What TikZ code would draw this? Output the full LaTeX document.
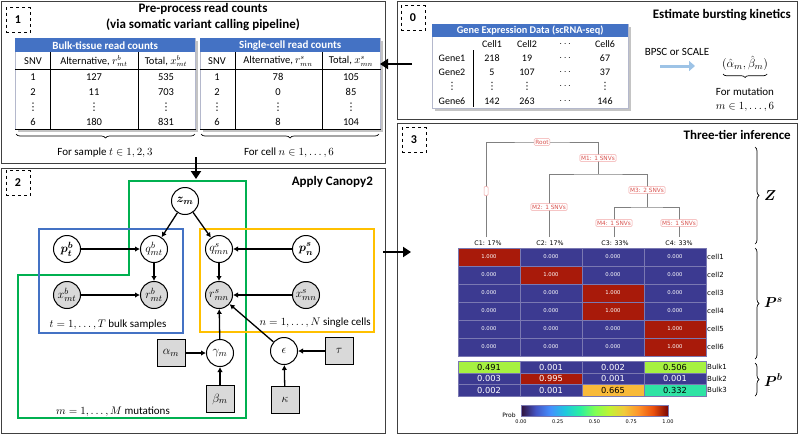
\documentclass[tikz,border=0pt]{standalone}
\usepackage{amsmath}
\usepackage{fontspec}
\setmainfont{Carlito}
\newfontfamily\plotfont{DejaVu Sans}
\usetikzlibrary{positioning}
\usetikzlibrary{calc}
\usetikzlibrary{backgrounds}
\usetikzlibrary{arrows.meta}
\usetikzlibrary{decorations.pathreplacing}

\newcommand{\tdots}{{\plotfont\char"22EE}}

\definecolor{framegray}{HTML}{404040}
\definecolor{hdrblue}{HTML}{4472C4}
\definecolor{rulegray}{HTML}{B4B8CC}
\definecolor{shadowgray}{HTML}{C4C4C4}
\definecolor{obsgray}{HTML}{D9D9D9}
\definecolor{plategreen}{HTML}{00B050}
\definecolor{plateblue}{HTML}{4472C4}
\definecolor{plateyellow}{HTML}{FFC000}
\definecolor{bpscblue}{HTML}{9DC3E6}
\definecolor{treegray}{HTML}{808080}
\definecolor{treered}{HTML}{D9534F}
\definecolor{treeedge}{HTML}{F2A6A6}
\definecolor{hmblue}{HTML}{3C3A91}
\definecolor{hmgrid}{HTML}{7A78B2}
\definecolor{hmred}{HTML}{A81A0A}
\definecolor{hmlime}{HTML}{A6F141}
\definecolor{hmorange}{HTML}{F8BA3A}
\definecolor{hmteal}{HTML}{2FE3A4}
\definecolor{tb0}{HTML}{30123B}
\definecolor{tb1}{HTML}{4454C4}
\definecolor{tb2}{HTML}{4490FE}
\definecolor{tb3}{HTML}{1FC8DE}
\definecolor{tb4}{HTML}{29EFA2}
\definecolor{tb5}{HTML}{7EFF55}
\definecolor{tb6}{HTML}{C1F334}
\definecolor{tb7}{HTML}{F1CA3A}
\definecolor{tb8}{HTML}{FE922A}
\definecolor{tb9}{HTML}{EA4F0D}
\definecolor{tb10}{HTML}{7A0403}
\pgfdeclarehorizontalshading{probbar}{100bp}{color(0bp)=(tb0); color(25bp)=(tb0); color(30bp)=(tb1); color(35bp)=(tb2); color(40bp)=(tb3); color(45bp)=(tb4); color(50bp)=(tb5); color(55bp)=(tb6); color(60bp)=(tb7); color(65bp)=(tb8); color(70bp)=(tb9); color(75bp)=(tb10); color(100bp)=(tb10)}

\tikzset{
  panel/.style={draw=framegray, line width=0.8pt},
  numbox/.style={draw, dashed, line width=0.8pt, minimum width=24pt, minimum height=25pt, inner sep=0pt, font=\fontsize{12}{14}\selectfont\bfseries},
  paneltitle/.style={inner sep=0pt, font=\fontsize{13}{16}\selectfont\bfseries},
  tblhead/.style={fill=hdrblue, text=white, inner sep=0pt, anchor=north west, font=\fontsize{11}{12}\selectfont\bfseries},
  tblframe/.style={draw=rulegray, fill=white, line width=0.6pt, inner sep=0pt, anchor=north west},
  tblrule/.style={black, line width=0.6pt},
  tbltext/.style={inner sep=0pt, font=\fontsize{10.5}{12}\selectfont},
  genetext/.style={inner sep=0pt, font=\fontsize{10}{11}\selectfont},
  bigarrow/.style={line width=2.6pt, -{Triangle[length=8pt,width=10pt]}},
  bracestyle/.style={decorate, decoration={brace, amplitude=4pt}, line width=0.7pt},
  latent/.style={circle, draw, line width=1pt, minimum size=27pt, inner sep=0pt, fill=white, font=\fontsize{12.5}{14}\selectfont},
  observed/.style={latent, fill=obsgray},
  hyper/.style={rectangle, draw, line width=1pt, minimum width=28pt, minimum height=27pt, inner sep=0pt, fill=obsgray, font=\fontsize{12.5}{14}\selectfont},
  edge/.style={line width=1.3pt, -{Latex[length=5pt,width=5.5pt]}},
  plate/.style={line width=1.6pt},
  platelab/.style={inner sep=0pt, font=\fontsize{11}{12}\selectfont},
  treeline/.style={treegray, line width=0.9pt},
  treelab/.style={draw=treeedge, fill=white, text=treered, rounded corners=1pt, inner sep=1.2pt, line width=0.5pt, font=\plotfont\fontsize{5.8}{7}\selectfont},
  clonelab/.style={inner sep=0pt, anchor=south, font=\plotfont\fontsize{6.3}{7}\selectfont},
  hmcell/.style={draw=hmgrid, line width=0.4pt, text=white, minimum width=62pt, inner sep=0pt, font=\plotfont\fontsize{5.3}{6}\selectfont},
  bulkcell/.style={hmcell, minimum height=11.6pt, font=\plotfont\fontsize{8.3}{9}\selectfont},
  rowlab/.style={anchor=west, inner sep=0pt, font=\plotfont\fontsize{7}{8}\selectfont},
  ticklab/.style={inner sep=0pt, font=\plotfont\fontsize{5}{6}\selectfont},
  biglab/.style={anchor=west, inner sep=0pt, font=\fontsize{14}{16}\selectfont}
}

\begin{document}
\begin{tikzpicture}[x=1pt,y=-1pt]
      \useasboundingbox (0,0) rectangle (798,434);

      % frames of the four panels
      \draw[panel] (1,1) rectangle (385,163);
      \draw[panel] (397,1) rectangle (797,119);
      \draw[panel] (1,168) rectangle (385,433);
      \draw[panel] (397,123) rectangle (797,433);

      \node[numbox] (num1) at (18,20) {1};
      \node[numbox] (num0) at (413,18) {0};
      \node[numbox] (num2) at (18,183) {2};
      \node[numbox] (num3) at (414,140) {3};

      \node[paneltitle, align=center] (title1) at (203,17) {Pre-process read counts\\(via somatic variant calling pipeline)};
      \node[paneltitle, anchor=east] (title0) at (791,15) {Estimate bursting kinetics};
      \node[paneltitle, anchor=east] (title2) at (373,182) {Apply Canopy2};
      \node[paneltitle, anchor=east] (title3) at (791,135) {Three-tier inference};

      % panel 1: read count tables
      \fill[shadowgray] (17.5,40.5) rectangle (197.5,131.5);
      \node[tblframe, minimum width=180pt, minimum height=91pt] (bulktab) at (15,38) {};
      \node[tblhead, minimum width=180pt, minimum height=14pt] (bulkhead) at (15,38) {Bulk-tissue read counts};
      \node[tbltext] (bulk-snv) at (33,61) {SNV};
      \node[tbltext] (bulk-alt) at (94,61) {Alternative, $r^b_{mt}$};
      \node[tbltext] (bulk-tot) at (166,61) {Total, $x^b_{mt}$};
      \draw[tblrule] (bulktab.west |- 0,69) -- (bulktab.east |- 0,69);
      \draw[tblrule] (50,52) -- (50,129);
      \draw[tblrule] (138,52) -- (138,129);
      \draw[tblrule] (bulktab.south west) -- (bulktab.south east);
      \foreach \snv/\alt/\tot [count=\i] in {1/127/535, 2/11/703, \tdots/\tdots/\tdots, 6/180/831}{
        \node[tbltext] (bulk-\i-1) at (33,{77+15*(\i-1)}) {\snv};
        \node[tbltext] (bulk-\i-2) at (94,{77+15*(\i-1)}) {\alt};
        \node[tbltext] (bulk-\i-3) at (166,{77+15*(\i-1)}) {\tot};
      }

      \fill[shadowgray] (202.5,40.5) rectangle (382.5,131.5);
      \node[tblframe, minimum width=180pt, minimum height=91pt] (sctab) at (200,38) {};
      \node[tblhead, minimum width=180pt, minimum height=14pt] (schead) at (200,38) {Single-cell read counts};
      \node[tbltext] (sc-snv) at (217,61) {SNV};
      \node[tbltext] (sc-alt) at (278,61) {Alternative, $r^s_{mn}$};
      \node[tbltext] (sc-tot) at (351,61) {Total, $x^s_{mn}$};
      \draw[tblrule] (sctab.west |- 0,69) -- (sctab.east |- 0,69);
      \draw[tblrule] (235,52) -- (235,129);
      \draw[tblrule] (322,52) -- (322,129);
      \draw[tblrule] (sctab.south west) -- (sctab.south east);
      \foreach \snv/\alt/\tot [count=\i] in {1/78/105, 2/0/85, \tdots/\tdots/\tdots, 6/8/104}{
        \node[tbltext] (sc-\i-1) at (217,{77+15*(\i-1)}) {\snv};
        \node[tbltext] (sc-\i-2) at (278,{77+15*(\i-1)}) {\alt};
        \node[tbltext] (sc-\i-3) at (351,{77+15*(\i-1)}) {\tot};
      }

      \draw[bracestyle] (195,134) -- (16,134);
      \draw[bracestyle] (379,134) -- (201,134);
      \node[tbltext, font=\fontsize{11}{12}\selectfont] (forsample) at (105,153) {For sample $t \in 1, 2, 3$};
      \node[tbltext, font=\fontsize{11}{12}\selectfont] (forcell) at (289,153) {For cell $n \in 1, \ldots, 6$};

      % panel 0: expression data
      \fill[shadowgray] (434.5,26.5) rectangle (630.5,110.5);
      \node[tblframe, minimum width=196pt, minimum height=84pt] (gextab) at (432,24) {};
      \node[tblhead, minimum width=196pt, minimum height=13pt, font=\fontsize{10.3}{11}\selectfont\bfseries] (gexhead) at (432,24) {Gene Expression Data (scRNA-seq)};
      \draw[tblrule] (473,50) -- (473,107);
      \node[genetext] (gex-c1) at (492,44) {Cell1};
      \node[genetext] (gex-c2) at (527,44) {Cell2};
      \node[genetext] (gex-cd) at (566,44) {$\cdots$};
      \node[genetext] (gex-c6) at (605,44) {Cell6};
      \foreach \gene/\va/\vb/\vc [count=\i] in {Gene1/218/19/67, Gene2/5/107/37, \tdots/\tdots/\tdots/\tdots, Gene6/142/263/146}{
        \node[genetext] (gex-\i-0) at (452,{58+14.3*(\i-1)}) {\gene};
        \node[genetext] (gex-\i-1) at (492,{58+14.3*(\i-1)}) {\va};
        \node[genetext] (gex-\i-2) at (527,{58+14.3*(\i-1)}) {\vb};
        \node[genetext] (gex-\i-3) at (566,{58+14.3*(\i-1)}) {$\cdots$};
        \node[genetext] (gex-\i-4) at (605,{58+14.3*(\i-1)}) {\vc};
      }

      \node[genetext, font=\fontsize{11}{12}\selectfont] (bpsc) at (677,52) {BPSC or SCALE};
      \coordinate (bpsc-s) at (660,66);
      \coordinate (bpsc-e) at (695,66);
      \draw[bpscblue, line width=3pt, -{Triangle[length=6pt,width=10pt]}] (bpsc-s) -- (bpsc-e);
      \node[inner sep=0pt, font=\fontsize{12.5}{14}\selectfont] (alphabeta) at (745,63) {$(\hat{\alpha}_m, \hat{\beta}_m)$};
      \draw[bracestyle, decoration={amplitude=3.5pt}] (767,74) -- (723,74);
      \node[genetext, font=\fontsize{11}{12}\selectfont] (formut) at (745,92) {For mutation};
      \node[genetext, font=\fontsize{11}{12}\selectfont] (mrange) at (745,107) {$m \in 1, \ldots, 6$};

      \coordinate (arr01-s) at (412,64);
      \coordinate (arr01-e) at (380,64);
      \draw[bigarrow] (arr01-s) -- (arr01-e);
      \coordinate (arr12-s) at (196,157);
      \coordinate (arr12-e) at (196,179);
      \draw[bigarrow] (arr12-s) -- (arr12-e);
      \coordinate (arr23-s) at (383,252);
      \coordinate (arr23-e) at (411,252);
      \draw[bigarrow] (arr23-s) -- (arr23-e);

      % panel 2: graphical model
      \draw[plate, plategreen] (129,181) -- (246,181) -- (246,418) -- (18,418) -- (18,275) -- (129,275) -- cycle;
      \draw[plate, plateblue] (39,229) rectangle (183,333);
      \draw[plate, plateyellow] (200,229) rectangle (374,332);
      \node[platelab] (tlab) at (108,325) {$t = 1, \ldots, T$ bulk samples};
      \node[platelab, anchor=east] (nlab) at (371,323) {$n = 1, \ldots, N$ single cells};
      \node[platelab] (mlab) at (113,412) {$m = 1, \ldots, M$ mutations};

      \node[latent] (zm) at (185,201) {$\boldsymbol{z_m}$};
      \node[latent] (pb) at (67,249) {$\boldsymbol{p^b_t}$};
      \node[latent] (qb) at (154,249) {$q^b_{mt}$};
      \node[latent] (qs) at (219,249) {$q^s_{mn}$};
      \node[latent] (ps) at (306,249) {$\boldsymbol{p^s_n}$};
      \node[observed] (xb) at (67,295) {$x^b_{mt}$};
      \node[observed] (rb) at (154,295) {$r^b_{mt}$};
      \node[observed] (rs) at (219,295) {$r^s_{mn}$};
      \node[observed] (xs) at (306,295) {$x^s_{mn}$};
      \node[latent] (gam) at (220,353) {$\gamma_m$};
      \node[hyper] (alp) at (171,353) {$\alpha_m$};
      \node[hyper] (bet) at (220,399) {$\beta_m$};
      \node[latent] (eps) at (284,351) {$\epsilon$};
      \node[hyper] (tau) at (339,351) {$\tau$};
      \node[hyper] (kap) at (285,400) {$\kappa$};

      \draw[edge] (zm) -- (qb);
      \draw[edge] (zm) -- (qs);
      \draw[edge] (pb) -- (qb);
      \draw[edge] (ps) -- (qs);
      \draw[edge] (qb) -- (rb);
      \draw[edge] (xb) -- (rb);
      \draw[edge] (qs) -- (rs);
      \draw[edge] (xs) -- (rs);
      \draw[edge] (gam) -- (rs);
      \draw[edge] (eps) -- (rs);
      \draw[edge] (alp) -- (gam);
      \draw[edge] (bet) -- (gam);
      \draw[edge] (tau) -- (eps);
      \draw[edge] (kap) -- (eps);

      % panel 3: tree and heatmaps
      \node[treelab] (root) at (542,142) {Root};
      \node[treelab] (m1) at (598,158) {M1: 1 SNVs};
      \node[treelab] (m2) at (549,207) {M2: 1 SNVs};
      \node[treelab] (m3) at (647,190) {M3: 2 SNVs};
      \node[treelab] (m4) at (614,223) {M4: 1 SNVs};
      \node[treelab] (m5) at (679,223) {M5: 1 SNVs};
      \node[treelab, minimum width=4pt, minimum height=9pt, inner sep=0pt] (e1) at (486,191) {};
      \node[clonelab] (c1) at (488,246) {C1: 17\%};
      \node[clonelab] (c2) at (550,246) {C2: 17\%};
      \node[clonelab] (c3) at (615,246) {C3: 33\%};
      \node[clonelab] (c4) at (679,246) {C4: 33\%};
      \coordinate (j1) at (598,174);
      \coordinate (j3) at (647,207);
      \begin{scope}[on background layer]
        \draw[treeline] (486,237) |- (root.center) -| (j1);
        \draw[treeline] (549,237) |- (j1) -| (j3);
        \draw[treeline] (614,237) |- (j3) -| (679,237);
      \end{scope}

      \foreach \r/\hot in {1/1,2/2,3/3,4/3,5/4,6/4}{
        \foreach \c in {1,...,4}{
          \ifnum\c=\hot \def\cellcol{hmred}\def\cellval{1.000}\else \def\cellcol{hmblue}\def\cellval{0.000}\fi
          \node[hmcell, fill=\cellcol, minimum height=18pt] (cell-\r-\c) at ({489+62*(\c-1)},{257+18*(\r-1)}) {\cellval};
        }
        \node[rowlab] (cellname-\r) at (707,{257+18*(\r-1)}) {cell\r};
      }
      \foreach \r/\c/\v/\col/\tcol in {1/1/0.491/hmlime/black, 1/2/0.001/hmblue/white, 1/3/0.002/hmblue/white, 1/4/0.506/hmlime/black,
                                      2/1/0.003/hmblue/white, 2/2/0.995/hmred/white, 2/3/0.001/hmblue/white, 2/4/0.001/hmblue/white,
                                      3/1/0.002/hmblue/white, 3/2/0.001/hmblue/white, 3/3/0.665/hmorange/black, 3/4/0.332/hmteal/black}{
        \node[bulkcell, fill=\col, text=\tcol] (bulk-\r-\c) at ({489+62*(\c-1)},{367+11.6*(\r-1)}) {\v};
      }
      \foreach \r in {1,2,3}
        \node[rowlab] (bulkname-\r) at (707,{367+11.6*(\r-1)}) {Bulk\r};

      \node[draw=hmgrid, line width=0.4pt, minimum width=147pt, minimum height=11pt, inner sep=0pt, shading=probbar] (cbar) at (594.5,410.5) {};
      \foreach \t/\lab [count=\i] in {0/0.00, 0.25/0.25, 0.5/0.50, 0.75/0.75, 1/1.00}
        \node[ticklab] (tick-\i) at ({521+147*\t},422) {\lab};
      \node[ticklab, font=\plotfont\fontsize{6}{7}\selectfont] (problab) at (509,415) {Prob};

      \draw[bracestyle] (755,147) -- (755,244);
      \draw[bracestyle] (755,248) -- (755,359);
      \draw[bracestyle] (755,363) -- (755,396);
      \node[biglab] (zlab) at (764,196) {$\boldsymbol{Z}$};
      \node[biglab] (pslab) at (764,303) {$\boldsymbol{P^s}$};
      \node[biglab] (pblab) at (764,380) {$\boldsymbol{P^b}$};
\end{tikzpicture}
\end{document}
